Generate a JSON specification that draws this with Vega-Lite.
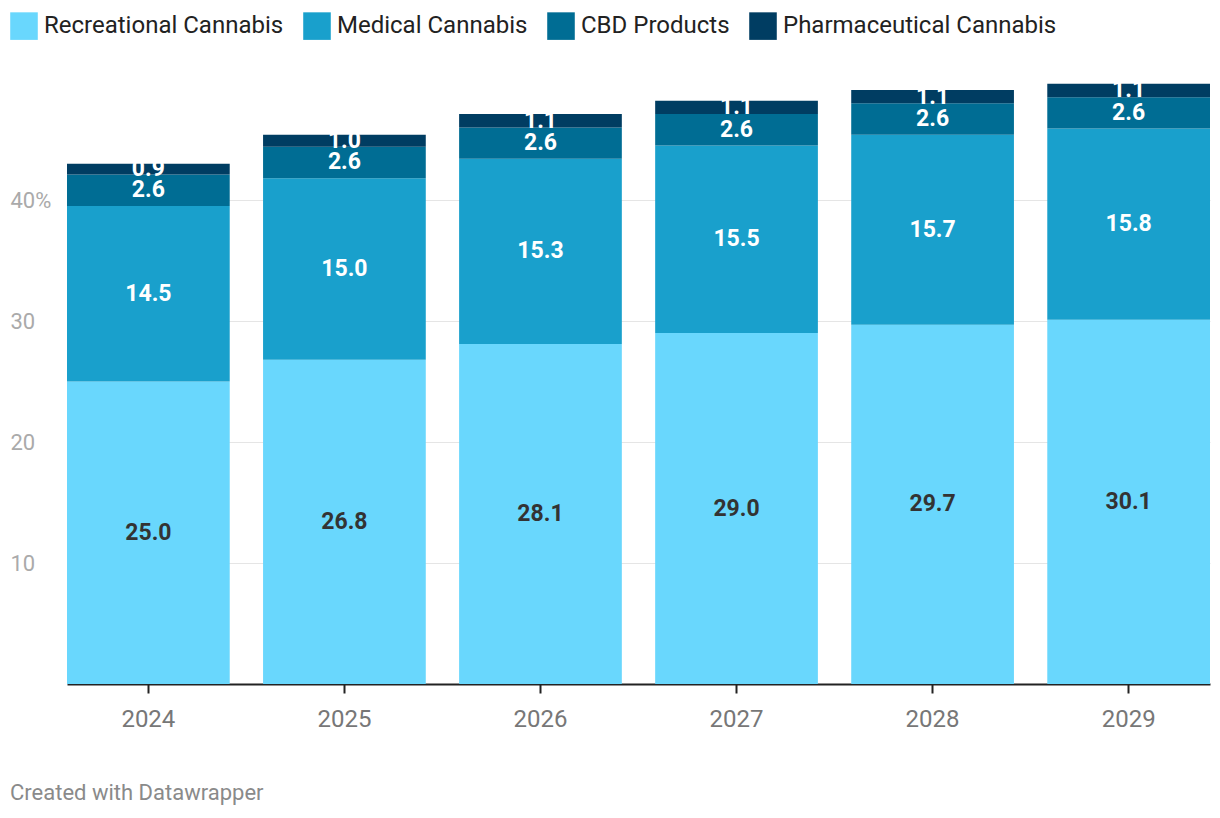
{
  "$schema": "https://vega.github.io/schema/vega-lite/v6.json",
  "autosize": {"type": "none"},
  "width": 1143,
  "height": 605,
  "padding": {"left": 67, "top": 79, "right": 10, "bottom": 134},
  "background": "#ffffff",
  "config": {
    "font": "Roboto",
    "view": {"stroke": null},
    "legend": {"labelFont": "Roboto"},
    "axis": {"labelFont": "Roboto"}
  },
  "title": {
    "text": "Created with Datawrapper",
    "orient": "bottom",
    "anchor": "start",
    "frame": "bounds",
    "offset": 52,
    "fontSize": 22,
    "fontWeight": "normal",
    "color": "#8a8a8a",
    "font": "Roboto"
  },
  "data": {
    "values": [
      {"year": "2024", "series": "Recreational Cannabis", "idx": 0, "value": 25.0},
      {"year": "2024", "series": "Medical Cannabis", "idx": 1, "value": 14.5},
      {"year": "2024", "series": "CBD Products", "idx": 2, "value": 2.6},
      {"year": "2024", "series": "Pharmaceutical Cannabis", "idx": 3, "value": 0.9},
      {"year": "2025", "series": "Recreational Cannabis", "idx": 0, "value": 26.8},
      {"year": "2025", "series": "Medical Cannabis", "idx": 1, "value": 15.0},
      {"year": "2025", "series": "CBD Products", "idx": 2, "value": 2.6},
      {"year": "2025", "series": "Pharmaceutical Cannabis", "idx": 3, "value": 1.0},
      {"year": "2026", "series": "Recreational Cannabis", "idx": 0, "value": 28.1},
      {"year": "2026", "series": "Medical Cannabis", "idx": 1, "value": 15.3},
      {"year": "2026", "series": "CBD Products", "idx": 2, "value": 2.6},
      {"year": "2026", "series": "Pharmaceutical Cannabis", "idx": 3, "value": 1.1},
      {"year": "2027", "series": "Recreational Cannabis", "idx": 0, "value": 29.0},
      {"year": "2027", "series": "Medical Cannabis", "idx": 1, "value": 15.5},
      {"year": "2027", "series": "CBD Products", "idx": 2, "value": 2.6},
      {"year": "2027", "series": "Pharmaceutical Cannabis", "idx": 3, "value": 1.1},
      {"year": "2028", "series": "Recreational Cannabis", "idx": 0, "value": 29.7},
      {"year": "2028", "series": "Medical Cannabis", "idx": 1, "value": 15.7},
      {"year": "2028", "series": "CBD Products", "idx": 2, "value": 2.6},
      {"year": "2028", "series": "Pharmaceutical Cannabis", "idx": 3, "value": 1.1},
      {"year": "2029", "series": "Recreational Cannabis", "idx": 0, "value": 30.1},
      {"year": "2029", "series": "Medical Cannabis", "idx": 1, "value": 15.8},
      {"year": "2029", "series": "CBD Products", "idx": 2, "value": 2.6},
      {"year": "2029", "series": "Pharmaceutical Cannabis", "idx": 3, "value": 1.1}
    ]
  },
  "encoding": {
    "x": {
      "field": "year",
      "type": "ordinal",
      "scale": {"paddingInner": 0.17, "paddingOuter": 0},
      "axis": {
        "title": null,
        "labelAngle": 0,
        "labelFontSize": 24,
        "labelColor": "#777777",
        "labelPadding": 14,
        "domainColor": "#222222",
        "domainWidth": 2,
        "tickColor": "#222222",
        "tickWidth": 2,
        "tickSize": 9,
        "grid": false
      }
    },
    "y": {
      "field": "value",
      "type": "quantitative",
      "stack": "zero",
      "scale": {"domain": [0, 50], "nice": false},
      "axis": {
        "title": null,
        "values": [10, 20, 30, 40],
        "labelExpr": "datum.value == 40 ? '40%' : datum.label",
        "labelAlign": "left",
        "labelBaseline": "middle",
        "labelPadding": 57,
        "labelFontSize": 22,
        "labelColor": "#aaaaaa",
        "domain": false,
        "ticks": false,
        "tickSize": 0,
        "gridColor": "#e5e5e5",
        "gridWidth": 1
      }
    },
    "order": {"field": "idx", "type": "quantitative", "sort": "ascending"}
  },
  "layer": [
    {
      "mark": {"type": "bar"},
      "encoding": {
        "color": {
          "field": "series",
          "type": "nominal",
          "sort": ["Recreational Cannabis", "Medical Cannabis", "CBD Products", "Pharmaceutical Cannabis"],
          "scale": {
            "domain": ["Recreational Cannabis", "Medical Cannabis", "CBD Products", "Pharmaceutical Cannabis"],
            "range": ["#69d7fd", "#19a0cc", "#006d94", "#003d62"]
          },
          "legend": {
            "title": null,
            "orient": "none",
            "direction": "horizontal",
            "legendX": -57,
            "legendY": -67,
            "symbolType": "square",
            "symbolSize": 760,
            "symbolStrokeWidth": 0,
            "symbolOpacity": 1,
            "labelFontSize": 24,
            "labelColor": "#222222",
            "labelOffset": 6,
            "columnPadding": 19,
            "labelLimit": 400
          }
        }
      }
    },
    {
      "mark": {
        "type": "text",
        "fontSize": 23,
        "fontWeight": "bold",
        "baseline": "middle",
        "align": "center"
      },
      "encoding": {
        "y": {"field": "value", "type": "quantitative", "stack": "zero", "bandPosition": 0.5},
        "detail": {"field": "series"},
        "text": {"field": "value", "type": "quantitative", "format": ".1f"},
        "color": {
          "condition": {"test": "datum.series === 'Recreational Cannabis'", "value": "#333333"},
          "value": "#ffffff"
        }
      }
    }
  ]
}
